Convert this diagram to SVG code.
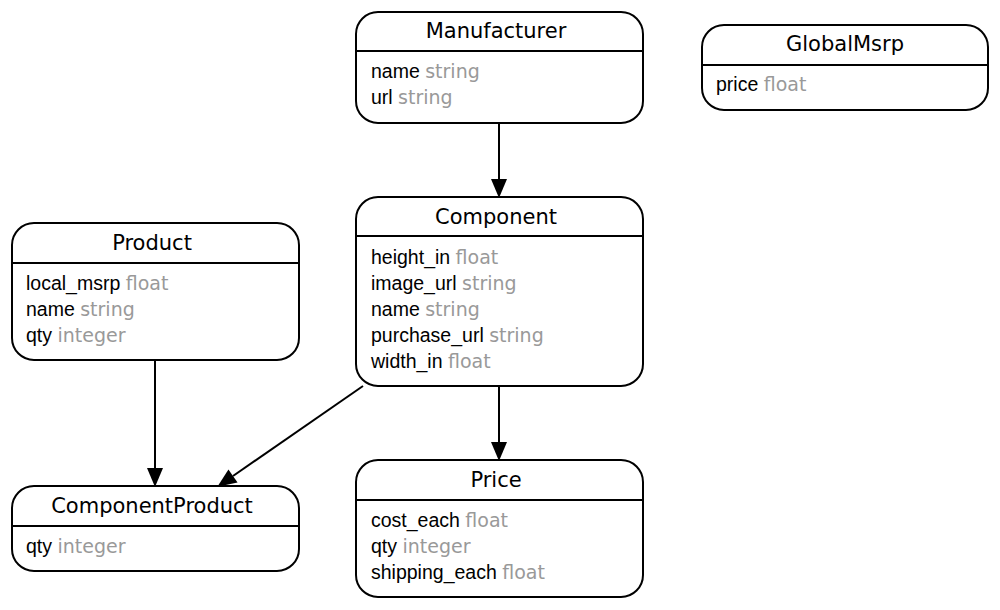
<svg xmlns="http://www.w3.org/2000/svg" width="1000" height="610" viewBox="0 0 1000 610">
<style>
.box{fill:#fff;stroke:#000;stroke-width:2}
.sep{stroke:#000;stroke-width:2}
.title{font-family:"DejaVu Sans","Noto Sans",sans-serif;font-size:21px;fill:#000;text-anchor:middle}
.f{font-family:"Liberation Sans",Arial,sans-serif;font-size:19.5px;fill:#000}
.t{font-family:"DejaVu Sans","Noto Sans",sans-serif;font-size:19px;fill:#999}
.edge{fill:none;stroke:#000;stroke-width:2}
</style>
<defs>
<marker id="arr" markerUnits="userSpaceOnUse" markerWidth="20" markerHeight="16" refX="0" refY="8" orient="auto" overflow="visible">
<path d="M0,0 L19,8 L0,16 z" fill="#000"/>
</marker>
</defs>
<rect width="1000" height="610" fill="#fff"/>
<g id="connectors">
<path class="edge" d="M499,123 L499,179" marker-end="url(#arr)"/>
<path class="edge" d="M155,360 L155,468" marker-end="url(#arr)"/>
<path class="edge" d="M363,386 L233,476" marker-end="url(#arr)"/>
<path class="edge" d="M499,386 L499,442" marker-end="url(#arr)"/>
</g>
<g id="Manufacturer">
<rect class="box" x="356" y="12" width="287" height="111" rx="22"/>
<line class="sep" x1="356" y1="51" x2="643" y2="51"/>
<text class="title" x="496" y="38">Manufacturer</text>
<text class="f" x="371" y="78">name <tspan class="t">string</tspan></text>
<text class="f" x="371" y="104">url <tspan class="t">string</tspan></text>
</g>
<g id="GlobalMsrp">
<rect class="box" x="702" y="25" width="286" height="85" rx="22"/>
<line class="sep" x1="702" y1="65" x2="988" y2="65"/>
<text class="title" x="845" y="51">GlobalMsrp</text>
<text class="f" x="716" y="91">price <tspan class="t">float</tspan></text>
</g>
<g id="Component">
<rect class="box" x="356" y="197" width="287" height="189" rx="22"/>
<line class="sep" x1="356" y1="236" x2="643" y2="236"/>
<text class="title" x="496" y="224">Component</text>
<text class="f" x="371" y="264">height_in <tspan class="t">float</tspan></text>
<text class="f" x="371" y="290">image_url <tspan class="t">string</tspan></text>
<text class="f" x="371" y="316">name <tspan class="t">string</tspan></text>
<text class="f" x="371" y="342">purchase_url <tspan class="t">string</tspan></text>
<text class="f" x="371" y="368">width_in <tspan class="t">float</tspan></text>
</g>
<g id="Product">
<rect class="box" x="12" y="223" width="287" height="137" rx="22"/>
<line class="sep" x1="12" y1="263" x2="299" y2="263"/>
<text class="title" x="152" y="250">Product</text>
<text class="f" x="26" y="290">local_msrp <tspan class="t">float</tspan></text>
<text class="f" x="26" y="316">name <tspan class="t">string</tspan></text>
<text class="f" x="26" y="342">qty <tspan class="t">integer</tspan></text>
</g>
<g id="ComponentProduct">
<rect class="box" x="12" y="486" width="287" height="85" rx="22"/>
<line class="sep" x1="12" y1="526" x2="299" y2="526"/>
<text class="title" x="152" y="513">ComponentProduct</text>
<text class="f" x="26" y="553">qty <tspan class="t">integer</tspan></text>
</g>
<g id="Price">
<rect class="box" x="356" y="460" width="287" height="137" rx="22"/>
<line class="sep" x1="356" y1="500" x2="643" y2="500"/>
<text class="title" x="496" y="487">Price</text>
<text class="f" x="371" y="527">cost_each <tspan class="t">float</tspan></text>
<text class="f" x="371" y="553">qty <tspan class="t">integer</tspan></text>
<text class="f" x="371" y="579">shipping_each <tspan class="t">float</tspan></text>
</g>
</svg>
